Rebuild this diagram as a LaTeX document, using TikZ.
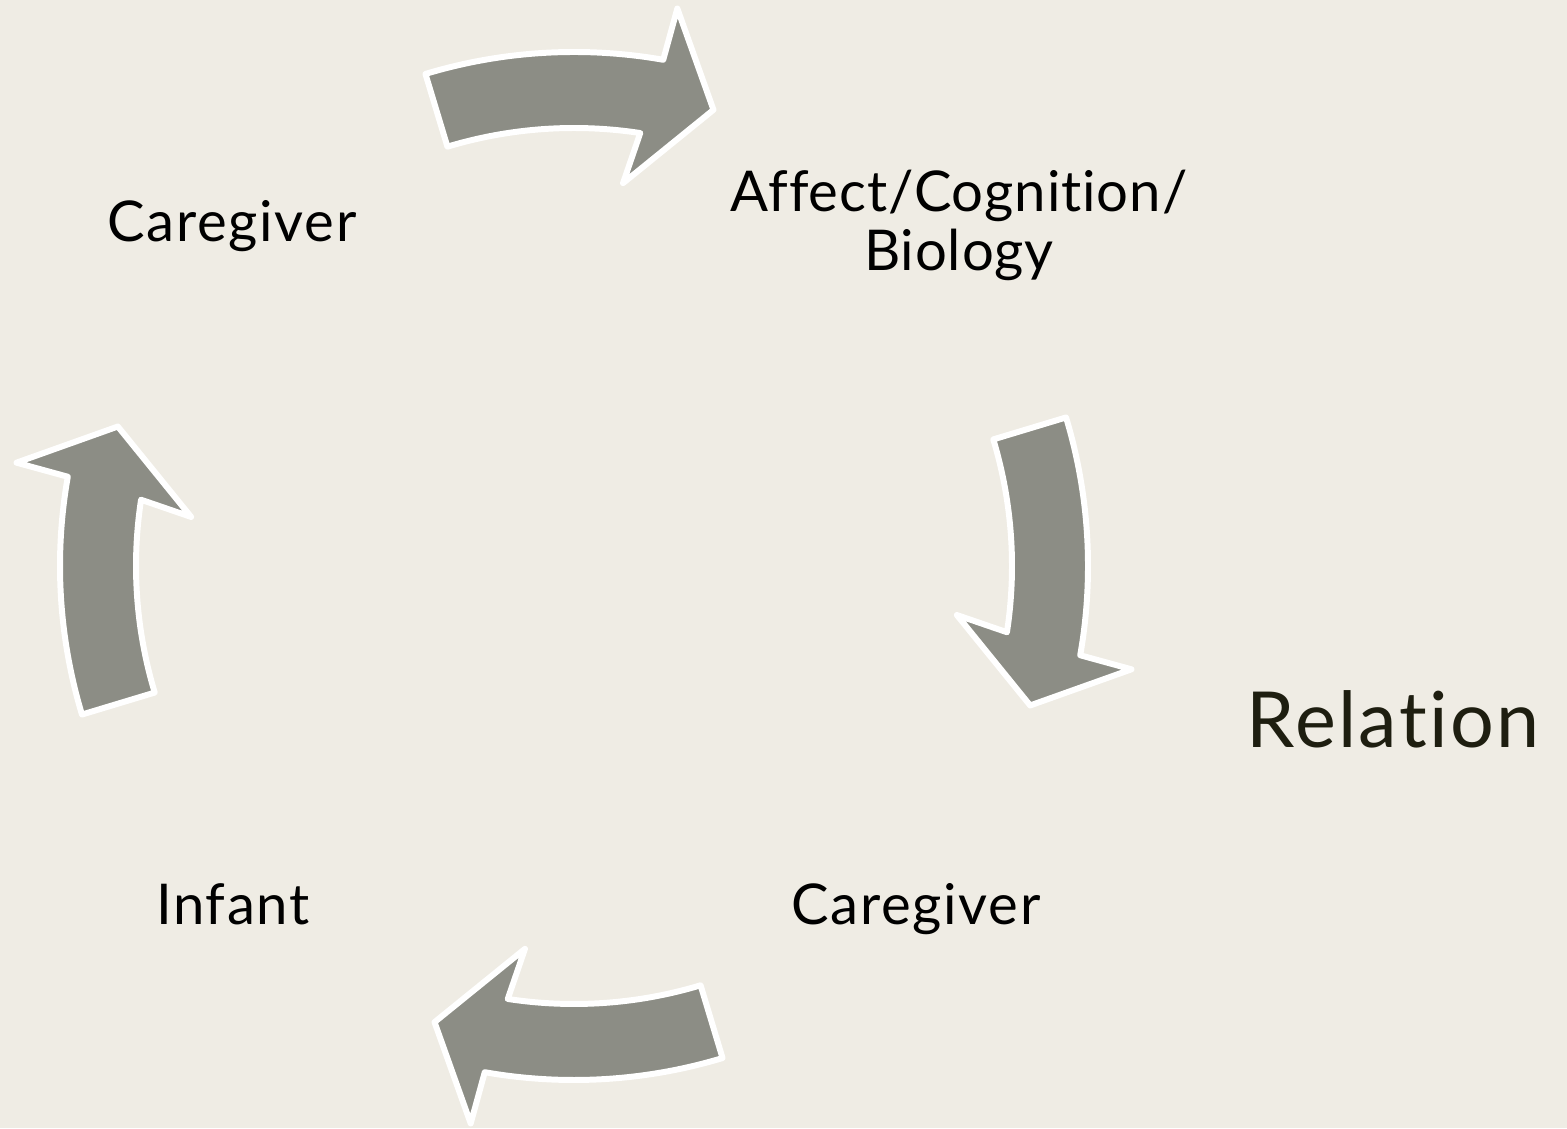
\documentclass[tikz,border=0pt]{standalone}
\usepackage{fontspec}
\setmainfont{Lato}[Ligatures={NoCommon}, LetterSpace=3]
\usepackage{tikz}
\usetikzlibrary{calc}
\definecolor{paper}{RGB}{239,236,228}
\definecolor{arrowGrey}{RGB}{140,141,133}
\definecolor{relationInk}{RGB}{30,30,16}

\begin{document}
\begin{tikzpicture}[x=.1mm, y=.1mm,
  arrowBody/.style={fill=arrowGrey, draw=white, line width=1.7pt, line join=round},
  cycleText/.style={font=\fontsize{16}{16.8}\selectfont, align=center, inner sep=0pt, anchor=base}]
\newcommand{\outerR}{514}%
\newcommand{\innerR}{438}%
\newcommand{\cycleArrow}[1]{\draw[arrowBody] ($(c)+(#1+16.8:\outerR)$)
  arc[start angle=#1+16.8, end angle=#1-10, radius=\outerR]
  -- ($(c)+(#1-10.5:567)$) -- ($(c)+(#1-17:477)$) -- ($(c)+(#1-7.3:386)$)
  -- ($(c)+(#1-8.7:\innerR)$)
  arc[start angle=#1-8.7, end angle=#1+16.8, radius=\innerR] -- cycle;
}
\fill[paper] (0,0) rectangle (1567,1128);
\coordinate (c) at (574,562);
\cycleArrow{90}
\cycleArrow{0}
\cycleArrow{-90}
\cycleArrow{180}
\node[cycleText] (caregiverTop) at (232,886) {Caregiver};
\node[cycleText, font=\fontsize{16}{16.8}\selectfont\addfontfeature{LetterSpace=1.6}] (affect) at (959,857) {Affect/Cognition/\\Biology};
\node[cycleText] (caregiverBottom) at (916,203) {Caregiver};
\node[cycleText] (infant) at (233,203) {Infant};
\node[cycleText, font=\fontsize{22}{26}\selectfont, text=relationInk] (relation) at (1393,380) {Relation};

\end{tikzpicture}
\end{document}
